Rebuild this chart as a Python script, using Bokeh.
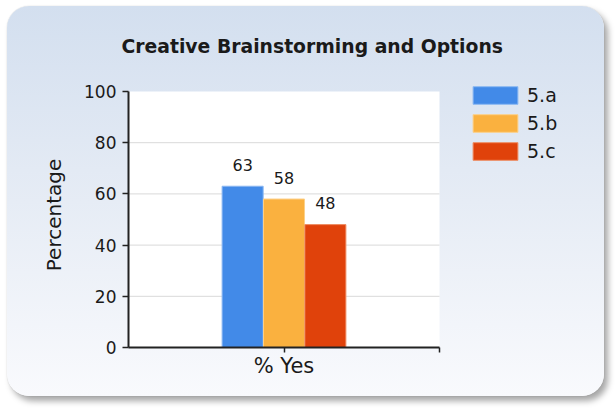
from bokeh.plotting import figure
from bokeh.models import (Range1d, LabelSet, BoxAnnotation,
                          ColumnDataSource, Legend, LegendItem, FixedTicker)
from bokeh.transform import dodge
from bokeh.core.properties import value
from bokeh.embed import file_html
from bokeh.resources import INLINE

# ---- data ----
categories = ["% Yes"]
series_names = ["5.a", "5.b", "5.c"]
values_5a = [63]
values_5b = [58]
values_5c = [48]
y_ticks = [0, 20, 40, 60, 80, 100]
grid_ticks = [20, 40, 60, 80]
title_text = "Creative Brainstorming and Options"
y_label = "Percentage"

# ---- style ----
colors = ["#428ae8", "#fab13f", "#e0420b"]
outlines = ["#8bb8f2", "#fcd089", "#ee8c62"]
offsets = [-0.133, 0.0, 0.133]
FONT = "DejaVu Sans"
TXT = "#1a1a1a"

# layout (pixels): plot box 311 x 256; frame extends right/up to host legend
W, H = 597, 390
BL, BB, BT = 121, 49, 76
PLOT_W, PLOT_H = 311, 256
frame_w = W - BL
frame_h = H - BB - BT
n = len(categories)
x_end = n * frame_w / PLOT_W
y_end = 100 * frame_h / PLOT_H

p = figure(width=W, height=H,
           x_range=Range1d(0, x_end), y_range=Range1d(0, y_end),
           output_backend="svg", toolbar_location=None,
           min_border_left=BL, min_border_right=0,
           min_border_top=BT, min_border_bottom=BB,
           styles={
               "margin-left": "7px",
               "margin-top": "6px",
               "background": "linear-gradient(to bottom, #d3dfef 0%, #e6ecf5 50%, #f9fafd 100%)",
               "border-radius": "22px",
               "box-shadow": "0 0 1px rgba(0,0,0,0.25), 4px 5px 6px rgba(0,0,0,0.35)",
           })
p.border_fill_color = None
p.background_fill_color = None
p.outline_line_color = None

# white plotting area
p.add_layout(BoxAnnotation(left=0, right=n, bottom=0, top=100,
                           fill_color="white", fill_alpha=1.0,
                           line_color=None, level="image"))

# title
p.title.text = title_text
p.title.align = "left"
p.title.offset = -7
p.title.standoff = 52
p.title.text_font = FONT
p.title.text_font_style = "bold"
p.title.text_font_size = "18.8px"
p.title.text_color = TXT

# grid lines limited to the plotting area
p.xgrid.visible = False
p.ygrid.visible = False
p.segment(x0=[0] * len(grid_ticks), x1=[n] * len(grid_ticks),
          y0=grid_ticks, y1=grid_ticks, line_color="#d9d9d9", line_width=1)

# axes
p.yaxis.ticker = FixedTicker(ticks=y_ticks)
p.yaxis.bounds = (0, 100)
x_centers = [i + 0.5 for i in range(n)]
p.xaxis.ticker = FixedTicker(ticks=x_centers, minor_ticks=[float(n)])
p.xaxis.major_label_overrides = {x: c for x, c in zip(x_centers, categories)}
p.xaxis.bounds = (0, n)
for ax in (p.xaxis[0], p.yaxis[0]):
    ax.axis_line_width = 2
    ax.axis_line_color = "#222222"
    ax.major_tick_line_color = "#222222"
    ax.major_tick_line_width = 1.5
    ax.major_tick_in = 0
    ax.minor_tick_in = 0
    ax.major_label_text_font = FONT
    ax.major_label_text_color = TXT
p.yaxis.minor_tick_line_color = None
p.yaxis.major_tick_out = 6
p.yaxis.major_label_text_font_size = "17px"
p.yaxis.major_label_standoff = 6
p.yaxis.axis_label = y_label
p.yaxis.axis_label_text_font = FONT
p.yaxis.axis_label_text_font_style = "normal"
p.yaxis.axis_label_text_font_size = "20px"
p.yaxis.axis_label_text_color = TXT
p.yaxis.axis_label_standoff = 15
p.xaxis.major_tick_out = 5
p.xaxis.minor_tick_out = 5
p.xaxis.minor_tick_line_color = "#222222"
p.xaxis.minor_tick_line_width = 1.5
p.xaxis.major_label_text_font_size = "21px"
p.xaxis.major_label_standoff = 1

# bars
src = ColumnDataSource(dict(
    x=x_centers,
    a=values_5a, b=values_5b, c=values_5c,
    a_t=[str(v) for v in values_5a],
    b_t=[str(v) for v in values_5b],
    c_t=[str(v) for v in values_5c],
))
items = []
for col, name, off, fc, lc in zip(["a", "b", "c"], series_names, offsets, colors, outlines):
    r = p.vbar(x=dodge("x", off), top=col, width=0.132, source=src,
               fill_color=fc, line_color=lc, line_width=1)
    items.append(LegendItem(label=name, renderers=[r]))
    p.add_layout(LabelSet(x=dodge("x", off), y=col, text=col + "_t",
                          source=src, y_offset=15.5, text_align="center",
                          text_baseline="alphabetic", text_font=value(FONT),
                          text_font_size="16px", text_color=TXT))

legend = Legend(items=items, location=(339, 185), orientation="vertical",
                glyph_width=56, glyph_height=22, label_standoff=4, spacing=6,
                padding=0, margin=0, border_line_color=None, background_fill_alpha=0,
                label_text_font=FONT, label_text_font_size="19px",
                label_text_color=TXT, label_height=22)
p.add_layout(legend)

open("out.html", "w").write(file_html(p, INLINE))
